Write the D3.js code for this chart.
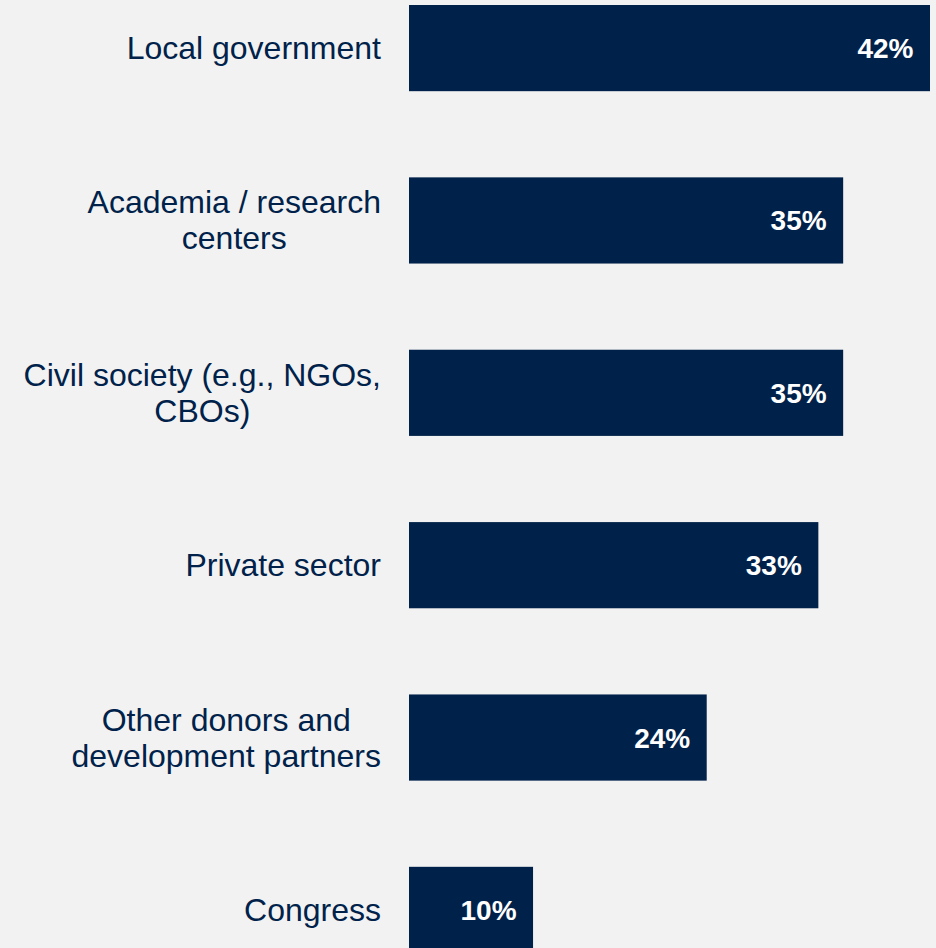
<!DOCTYPE html>
<html>
<head>
<meta charset="utf-8">
<script src="https://cdn.jsdelivr.net/npm/d3@7"></script>
<style>
  html, body { margin: 0; padding: 0; background: #f2f2f2; }
  svg { display: block; }
</style>
</head>
<body>
<svg id="chart" width="936" height="948"></svg>
<script>
// Share of respondents by partner type
const categories = [
  ["Local government"],
  ["Academia / research", "centers"],
  ["Civil society (e.g., NGOs,", "CBOs)"],
  ["Private sector"],
  ["Other donors and", "development partners"],
  ["Congress"]
];
const values = [42, 35, 35, 33, 24, 10];
const valueLabels = ["42%", "35%", "35%", "33%", "24%", "10%"];

const navy = "#00224a";
const width = 936, height = 948;
const barLeft = 409, barMaxRight = 930;
const labelRight = 381;
const fontFamily = "Arial, 'Liberation Sans', sans-serif";

const svg = d3.select("#chart");
svg.append("rect").attr("width", width).attr("height", height).attr("fill", "#f2f2f2");

const idx = d3.range(values.length);
const y = d3.scaleBand().domain(idx).range([5, 953]).paddingInner(0.5).paddingOuter(0);
const x = d3.scaleLinear().domain([0, 42]).range([barLeft, barMaxRight]);

// Bars
svg.selectAll("rect.bar").data(idx).join("rect")
  .attr("class", "bar")
  .attr("x", x(0))
  .attr("y", i => y(i))
  .attr("width", i => x(values[i]) - x(0))
  .attr("height", y.bandwidth())
  .attr("fill", navy);

// Value labels inside bar ends
svg.selectAll("text.val").data(idx).join("text")
  .attr("class", "val")
  .attr("x", i => x(values[i]) - 16.5)
  .attr("y", i => y(i) + y.bandwidth() / 2 + 10)
  .attr("text-anchor", "end")
  .attr("font-family", fontFamily)
  .attr("font-weight", "bold")
  .attr("font-size", 28)
  .attr("fill", "#ffffff")
  .text(i => valueLabels[i]);

// Category labels: block right-aligned, lines centered within block
const lineH = 36;
const fs = 32;
idx.forEach(i => {
  const lines = categories[i];
  const cy = y(i) + y.bandwidth() / 2;
  const g = svg.append("g");
  const texts = lines.map((ln, k) => g.append("text")
    .attr("font-family", fontFamily)
    .attr("font-size", fs)
    .attr("fill", navy)
    .attr("y", cy + (k - (lines.length - 1) / 2) * lineH + 11)
    .text(ln));
  const maxW = d3.max(texts, t => t.node().getComputedTextLength());
  const cx = labelRight - maxW / 2;
  texts.forEach(t => t.attr("x", cx).attr("text-anchor", "middle"));
});
</script>
</body>
</html>
